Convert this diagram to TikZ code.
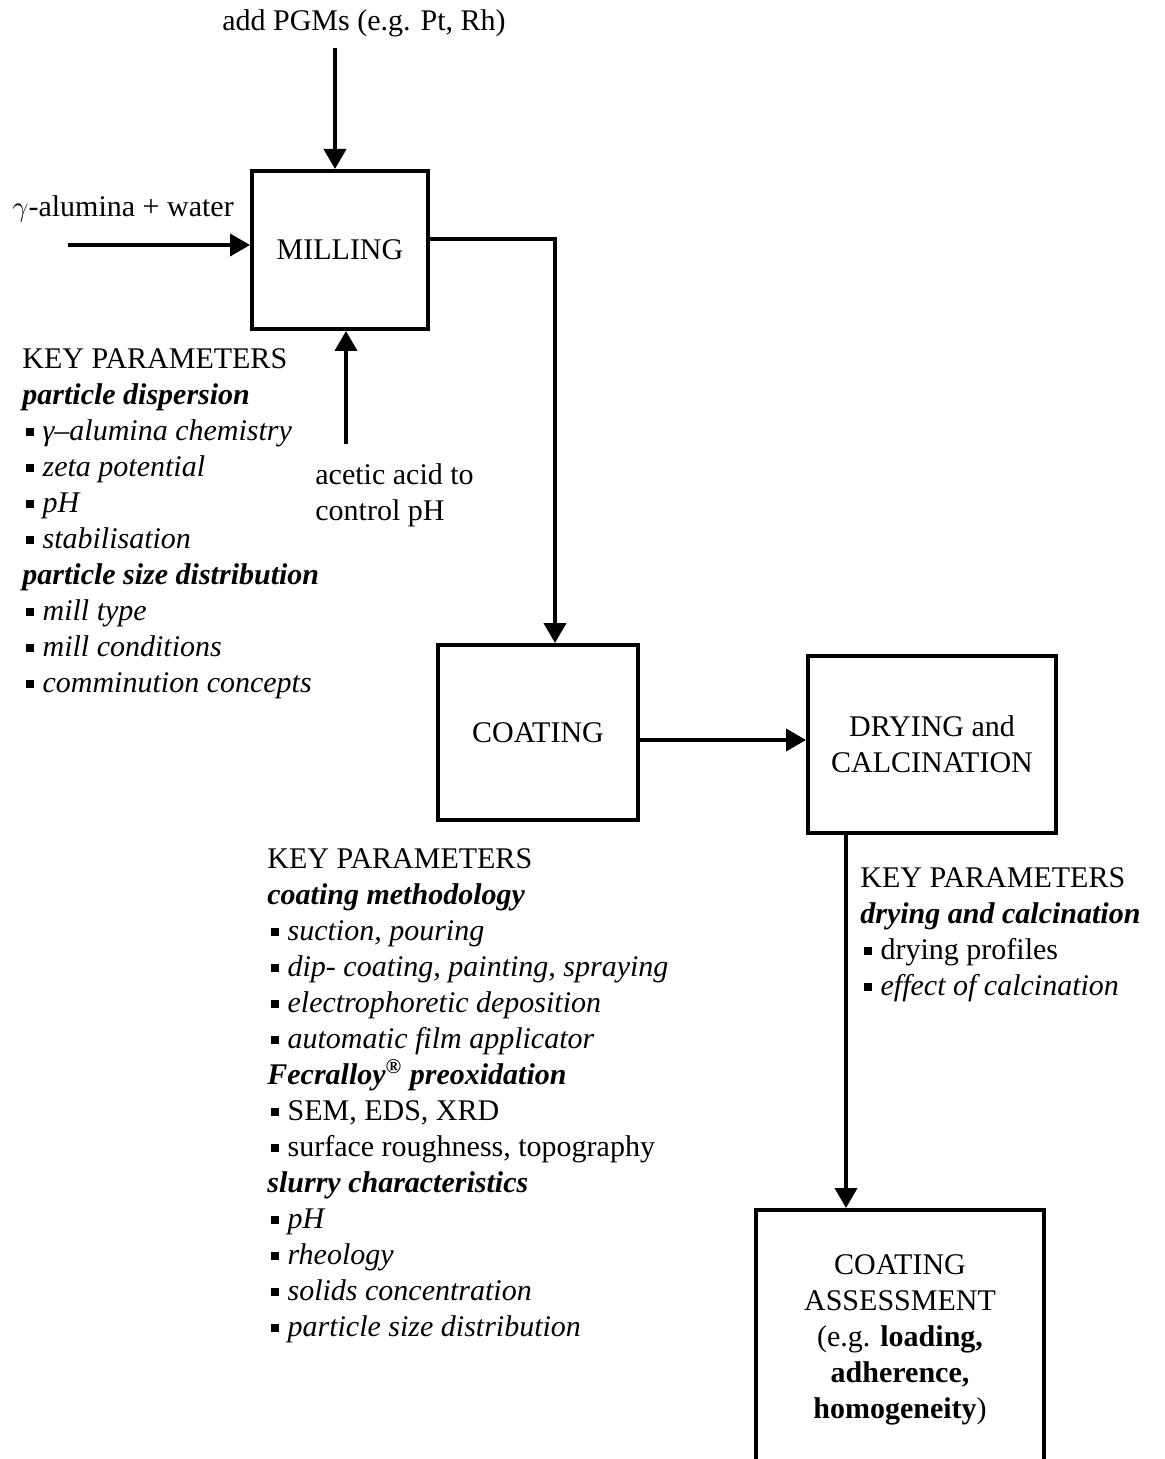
\documentclass[tikz,border=0pt]{standalone}
\usepackage{fontspec}
\setmainfont{Liberation Serif}
\usetikzlibrary{arrows.meta}
\newcommand{\bul}{\raisebox{0.15em}{\rule{0.26em}{0.26em}}\hspace{0.28em}}
\begin{document}
\begin{tikzpicture}[x=0.5pt,y=-0.5pt,
  txt/.style={font=\fontsize{15}{18}\selectfont, inner sep=0pt, align=left, anchor=north west},
  plain/.style={font=\fontsize{15}{18}\selectfont, inner sep=0pt},
  procbox/.style={draw, line width=2pt, font=\fontsize{15}{18}\selectfont, align=center, inner sep=0pt},
  arr/.style={line width=2pt, -{Triangle[length=10pt,width=11pt]}},
  conn/.style={line width=2pt}]
\useasboundingbox (0,0) rectangle (1165,1459);
\clip (0,0) rectangle (1165,1459);
\fill[white] (0,0) rectangle (1165,1459);

% process boxes
\node[procbox, minimum width=88pt, minimum height=79pt] (mill) at (340,250) {MILLING};
\node[procbox, minimum width=100pt, minimum height=87.5pt] (coat) at (538,732.5) {COATING};
\node[procbox, minimum width=124pt, minimum height=88.5pt] (dry) at (932,744.5) {DRYING and\\CALCINATION};
\node[procbox, minimum width=144pt, minimum height=130pt] (assess) at (900,1340)
  {COATING\\ASSESSMENT\\(e.g. \textbf{loading,}\\\textbf{adherence,}\\\textbf{homogeneity})};

% inputs
\node[plain, anchor=base] (pgm) at (364,31) {add PGMs (e.g. Pt, Rh)};
\node[plain, anchor=base west] (alu) at (12,217) {$\gamma$-alumina + water};
\node[txt] (acid) at (315,463) {acetic acid to\\control pH};

\coordinate (pgmstart) at (335,48);
\coordinate (alustart) at (68,245);
\coordinate (acidstart) at (346,444);
\coordinate (bend) at (555,239);
\coordinate (cy) at (0,740);
\coordinate (dx) at (846,0);

\draw[arr] (pgmstart) -- (mill.north -| pgmstart);
\draw[arr] (alustart) -- (mill.west |- alustart);
\draw[arr] (acidstart) -- (mill.south -| acidstart);
\draw[arr] (mill.east |- bend) -- (bend) -- (coat.north -| bend);
\draw[arr] (coat.east |- cy) -- (dry.west |- cy);
\draw[arr] (dry.south -| dx) -- (assess.north -| dx);

% key parameter lists
\node[txt] (kp1) at (22,348) {KEY PARAMETERS\\
\textbf{\textit{particle dispersion}}\\
\hspace{2pt}\bul\textit{γ–alumina chemistry}\\
\hspace{2pt}\bul\textit{zeta potential}\\
\hspace{2pt}\bul\textit{pH}\\
\hspace{2pt}\bul\textit{stabilisation}\\
\textbf{\textit{particle size distribution}}\\
\hspace{2pt}\bul\textit{mill type}\\
\hspace{2pt}\bul\textit{mill conditions}\\
\hspace{2pt}\bul\textit{comminution concepts}};

\node[txt] (kp2) at (267,848) {KEY PARAMETERS\\
\textbf{\textit{coating methodology}}\\
\hspace{2pt}\bul\textit{suction, pouring}\\
\hspace{2pt}\bul\textit{dip- coating, painting, spraying}\\
\hspace{2pt}\bul\textit{electrophoretic deposition}\\
\hspace{2pt}\bul\textit{automatic film applicator}\\
\textbf{\textit{Fecralloy\textsuperscript{®} preoxidation}}\\
\hspace{2pt}\bul SEM, EDS, XRD\\
\hspace{2pt}\bul surface roughness, topography\\
\textbf{\textit{slurry characteristics}}\\
\hspace{2pt}\bul\textit{pH}\\
\hspace{2pt}\bul\textit{rheology}\\
\hspace{2pt}\bul\textit{solids concentration}\\
\hspace{2pt}\bul\textit{particle size distribution}};

\node[txt] (kp3) at (860,867) {KEY PARAMETERS\\
\textbf{\textit{drying and calcination}}\\
\hspace{2pt}\bul drying profiles\\
\hspace{2pt}\bul\textit{effect of calcination}};
\end{tikzpicture}
\end{document}
